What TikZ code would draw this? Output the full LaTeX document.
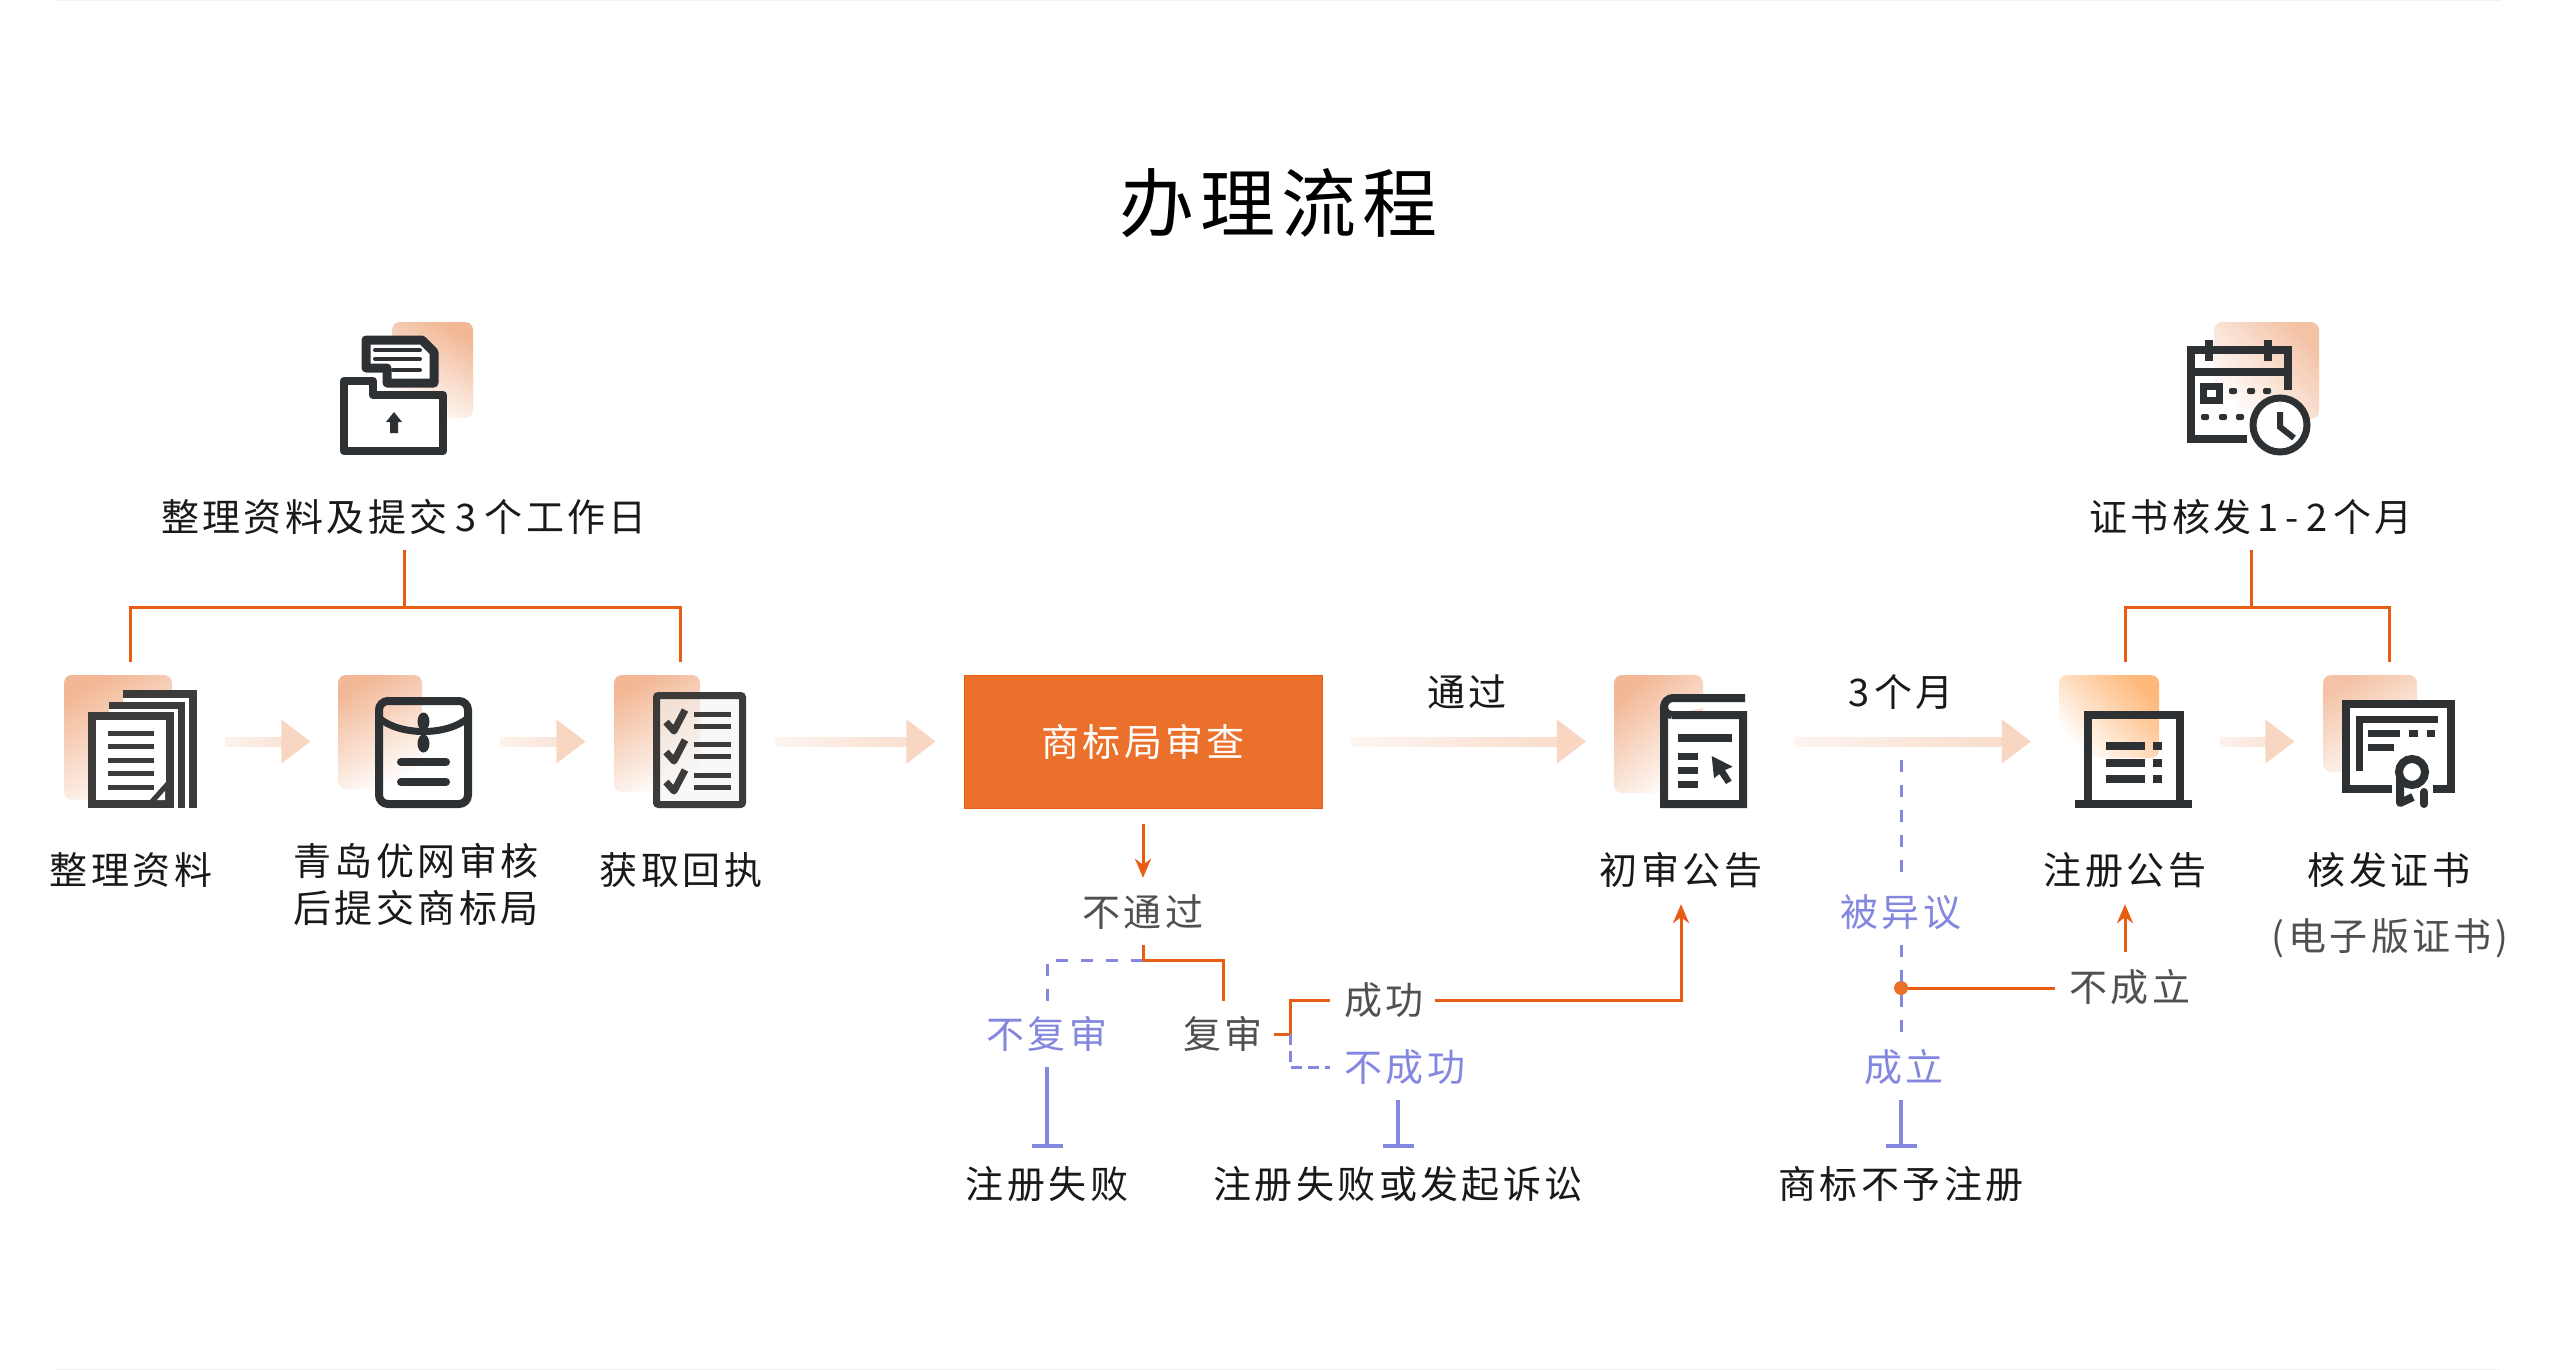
\documentclass[tikz,border=0pt]{standalone}
\usepackage{fontspec}
\setmainfont{Noto Sans CJK SC}[LetterSpace=9]
\newfontfamily\titlefont{Noto Sans CJK SC}[LetterSpace=8]
\usetikzlibrary{arrows.meta,fadings,decorations.markings}
\definecolor{flowpeach}{HTML}{F8D6C2}
\definecolor{bgpeach}{HTML}{F2B896}
\definecolor{bgamber}{HTML}{FFB87A}
\definecolor{lineorange}{HTML}{E85D12}
\definecolor{boxorange}{HTML}{EB702C}
\definecolor{tagblue}{HTML}{8487DF}
\definecolor{taggray}{HTML}{505050}
\definecolor{inkdark}{HTML}{2E3134}
\definecolor{inkbrown}{HTML}{3D3A3A}
\definecolor{edgegray}{HTML}{F2F2F2}
\tikzfading[name=flowfade, left color=transparent!90, right color=transparent!0]

\begin{document}
\begin{tikzpicture}[x=1pt, y=-1pt,
  labeltext/.style={inner sep=0pt, align=center, text=black!90,
                    font=\fontsize{38}{47}\selectfont},
  caption/.style={labeltext, text height=32pt, text depth=4pt},
  graytag/.style={caption, text=taggray},
  bluetag/.style={caption, text=tagblue},
  iconbox/.style={minimum size=133pt, inner sep=0pt},
  review/.style={fill=boxorange, draw=lineorange, line width=1pt, minimum width=358pt,
                 minimum height=133pt, text=white, inner sep=0pt,
                 font=\fontsize{38}{47}\selectfont},
  flowtip/.style={decoration={markings, mark=at position -28pt with
                  {\arrow{Triangle[length=29pt,width=44pt,flowpeach]}}}},
  flowstem/.style={draw=flowpeach, line width=10pt, path fading=flowfade,
                   shorten <=#1, shorten >=56pt},
  flowline/.style={draw=none, preaction={flowstem=#1},
                   postaction={flowtip, decorate}},
  flowline/.default=28pt,
  orangeline/.style={line width=3pt, lineorange},
  orangearrow/.style={orangeline, -{Stealth[length=19pt,width=16pt,inset=6pt]}},
  blueline/.style={line width=3.5pt, tagblue},
  bluedash/.style={line width=3pt, tagblue, dash pattern=on 12pt off 13pt},
  bluestop/.style={blueline, -{Bar[width=31pt]}},
  dotmark/.style={circle, fill=boxorange, minimum size=14pt, inner sep=0pt},
  bgfade/.style={rounded corners=8pt, top color=#1, bottom color=white},
  inkline/.style={line width=8pt, inkdark},
  inkthin/.style={line width=5pt, inkbrown},
  inkbar/.style={line width=8pt, inkdark, line cap=round}
]
\useasboundingbox (0,0) rectangle (2556,1370);
\fill[white] (0,0) rectangle (2556,1370);
\fill[edgegray] (56,0) rectangle (2500,1.5);
\fill[edgegray] (56,1368.5) rectangle (2500,1370);

\node[iconbox] (upload) at (406.5,388.5) {};
\node[iconbox] (calendar) at (2253,388.5) {};
\node[iconbox] (docs) at (130.5,741.5) {};
\node[iconbox] (envelope) at (405,741.5) {};
\node[iconbox] (checklist) at (680,741.5) {};
\node[review] (trademark) at (1143,741.5) {商标局审查};
\node[iconbox] (notice) at (1680.5,741.5) {};
\node[iconbox] (register) at (2125.5,741.5) {};
\node[iconbox] (cert) at (2389,741.5) {};

\shade[bgfade=bgpeach, shading angle=-30] (392,322) rectangle (473,418);
\shade[bgfade=bgpeach, shading angle=30] (64,675) rectangle (172,800);
\shade[bgfade=bgpeach, shading angle=30] (338,675) rectangle (422,789);
\shade[bgfade=bgpeach, shading angle=30] (614,675) rectangle (700,792);
\shade[bgfade=bgpeach, shading angle=40] (1614,675) rectangle (1703,793);
\shade[bgfade=bgamber, shading angle=-45] (2059,675) rectangle (2159,758);
\shade[bgfade=bgpeach!85, shading angle=30] (2323,675) rectangle (2417,772);
\shade[bgfade=bgpeach!85, shading angle=-45] (2214,322) rectangle (2319,419);

\draw[inkline, fill=white, line width=9pt, line join=round] (366,340) -- (422,340) -- (434,352) -- (434,383) -- (387,383) -- (387,368) -- (366,368) -- cycle;
\draw[line width=4pt, inkdark, line cap=round] (375,350) -- (420,350) (375,359) -- (420,359) (393,370) -- (420,370);
\draw[inkline, fill=white, line join=round] (344,381) -- (373,381) -- (373,395) -- (443,395) -- (443,451) -- (344,451) -- cycle;
\fill[inkdark] (394,412) -- (402,422) -- (398,422) -- (398,433) -- (390,433) -- (390,422) -- (386,422) -- cycle;

\draw[inkthin, line width=8pt, fill=white] (123,694) -- (193,694) -- (193,808);
\fill[white] (123,698) rectangle (189,808);
\draw[inkthin, line width=7pt, fill=white] (109,705) -- (181.5,705) -- (181.5,808);
\fill[white] (109,709) rectangle (178,808);
\draw[inkthin, line width=8pt, fill=white] (92,716) -- (169.5,716) -- (169.5,804) -- (92,804) -- cycle;
\fill[inkbrown] (150,800) -- (166,782) -- (166,800) -- cycle;
\fill[white] (157,800) -- (165,791) -- (165,800) -- cycle;
\foreach \rowy in {733,746,760,773,787}
  \draw[inkthin] (108,\rowy) -- (154,\rowy);

\draw[inkline, rounded corners=9pt] (379,701) rectangle (468,804);
\draw[line width=7pt, inkdark] (379,718) .. controls (400,736) and (447,736) .. (468,718);
\fill[inkdark] (423.5,721.5) ellipse (6pt and 9pt);
\fill[inkdark] (423.5,743.5) ellipse (6pt and 9pt);
\draw[line width=4pt, inkdark] (423.5,722) -- (423.5,744);
\draw[inkbar] (401,762) -- (446,762);
\draw[inkbar] (401,782) -- (446,782);

\draw[line width=7pt, inkbrown, fill=gray!10, fill opacity=.5, rounded corners=2pt] (656.5,695.5) rectangle (742.5,804.5);
\foreach \rowy in {0,30,60} {
  \draw[line width=7pt, inkbrown, line join=round] (666,722+\rowy) -- (674,731+\rowy) -- (685,710+\rowy);
}
\foreach \rowy in {714,726,744,756,775,787}
  \draw[inkthin] (694,\rowy) -- (731,\rowy);

\draw[inkline, fill=white] (1672,715) -- (1743,715) -- (1743,804) -- (1664,804) -- (1664,707) arc[start angle=180, end angle=90, radius=9pt] -- (1745,698);
\draw[inkline] (1664,707) arc[start angle=180, end angle=270, radius=8pt];
\draw[inkline] (1678,738) -- (1732,738);
\foreach \rowy in {756,770,784}
  \draw[inkline, line width=7pt] (1678,\rowy) -- (1698,\rowy);
\fill[inkdark] (1711.7,756) -- (1732.7,766.7) -- (1725,770) -- (1731.7,780.7) -- (1726,784) -- (1719.3,774) -- (1714,778.3) -- cycle;

\draw[inkline] (2087.5,804) -- (2087.5,715) -- (2180,715) -- (2180,804);
\draw[inkline] (2075,804) -- (2192,804);
\foreach \rowy in {746,763,779} {
  \draw[inkline] (2106,\rowy) -- (2145,\rowy);
  \draw[inkline] (2153,\rowy) -- (2162,\rowy);
}

\fill[white] (2346,704) rectangle (2451,789);
\draw[inkline] (2392,789) -- (2346,789) -- (2346,704) -- (2451,704) -- (2451,789) -- (2433,789);
\draw[line width=7pt, inkdark] (2438,719) -- (2359,719) -- (2359,771);
\draw[line width=7pt, inkdark] (2368,733) -- (2400,733) (2409,733) -- (2418,733) (2427,733) -- (2435,733) (2368,747) -- (2394,747);
\draw[inkline, fill=white] (2412,772) circle (13pt);
\draw[inkline, line join=round] (2400,777) -- (2400,803) -- (2413,797);
\draw[inkbar] (2424,792) -- (2424,804);

\draw[inkline] (2288,390) -- (2288,350) -- (2191,350) -- (2191,439) -- (2247,439);
\draw[inkline] (2191,372) -- (2288,372);
\draw[inkline] (2209,340) -- (2209,361) (2267.5,340) -- (2267.5,361);
\draw[line width=7pt, inkdark, fill=white] (2203.5,386.5) rectangle (2219.5,400.5);
\foreach \doty/\dotx in {391/2233,391/2251,391/2267,417/2205,417/2223,417/2240}
  \fill[inkdark, rounded corners=2pt] (\dotx-4,\doty-3) rectangle (\dotx+4,\doty+3);
\draw[line width=7pt, inkdark, fill=white] (2280,425) circle (27pt);
\draw[line width=6pt, inkdark] (2280,412) -- (2280,427) -- (2294,438);

\node[caption] (prepTime) at (404,517) {整理资料及提交\kern8pt 3\kern8pt 个工作日};
\node[caption] (certTime) at (2251,517) {证书核发\kern6pt 1\kern7pt -\kern7pt 2\kern6pt 个月};
\node[inner sep=0pt, font=\titlefont\fontsize{75}{90}\selectfont, text=black] (heading) at (1278,203) {办理流程};
\node[caption] (docsLabel) at (131,870) {整理资料};
\node[labeltext] (envelopeLabel) at (416,884) {青岛优网审核\\后提交商标局};
\node[caption] (checklistLabel) at (681,870) {获取回执};
\node[caption] (noticeLabel) at (1681,870) {初审公告};
\node[caption] (registerLabel) at (2125,870) {注册公告};
\node[caption] (certLabel) at (2389,870) {核发证书};
\node[graytag] (certNote) at (2390,936) {(电子版证书)};
\node[caption] (passLabel) at (1467,692) {通过};
\node[caption] (monthLabel) at (1901,692) {3\kern5pt 个月};
\node[graytag] (notpass) at (1143,912) {不通过};
\node[bluetag] (norecheck) at (1047,1034) {不复审};
\node[graytag] (recheck) at (1223,1034) {复审};
\node[graytag] (success) at (1384,1000) {成功};
\node[bluetag] (failure) at (1405,1067) {不成功};
\node[caption] (failed) at (1047,1184) {注册失败};
\node[caption] (sued) at (1398,1184) {注册失败或发起诉讼};
\node[bluetag] (objection) at (1901,912) {被异议};
\node[bluetag] (upheld) at (1904,1067) {成立};
\node[graytag] (invalid) at (2130,987) {不成立};
\node[caption] (refused) at (1901,1184) {商标不予注册};
\node[dotmark] (dissent) at (1901,988) {};

\coordinate (prepJoin) at (404,607);
\coordinate (certJoin) at (2251,607);
\coordinate (branch) at (1143,960);
\coordinate (recheckJoin) at (1290,1034);
\coordinate (objectTop) at (1901,760);

\draw[flowline] (docs) -- (envelope);
\draw[flowline] (envelope) -- (checklist);
\draw[flowline] (checklist) -- (trademark);
\draw[flowline] (trademark) -- (notice);
\draw[flowline=48pt] (notice) -- (register);
\draw[flowline] (register) -- (cert);

\draw[orangeline, shorten <=15pt] (prepTime.south) -- (prepJoin);
\draw[orangeline, shorten >=13pt] (prepJoin) -| (docs.north);
\draw[orangeline, shorten >=13pt] (prepJoin) -| (checklist.north);
\draw[orangeline, shorten <=15pt] (certTime.south) -- (certJoin);
\draw[orangeline, shorten >=13pt] (certJoin) -| (register.north);
\draw[orangeline, shorten >=13pt] (certJoin) -| (cert.north);

\draw[orangearrow, shorten <=15pt, shorten >=16pt] (trademark.south) -- (notpass.north);
\draw[bluedash, shorten >=15pt] (branch) -| (norecheck.north);
\draw[orangeline, shorten <=15pt] (notpass.south) -- (branch);
\draw[orangeline, shorten >=15pt] (branch) -| (recheck.north);
\draw[bluestop, shorten <=15pt, shorten >=18pt] (norecheck.south) -- (failed.north);
\draw[orangeline, shorten <=11pt] (recheck.east) -- (recheckJoin);
\draw[bluedash, dash pattern=on 11pt off 6pt, shorten >=14pt] (recheckJoin) |- (failure.west);
\draw[orangeline, shorten >=14pt] (recheckJoin) |- (success.west);
\draw[orangearrow, shorten <=11pt, shorten >=16pt] (success.east) -| (noticeLabel.south);
\draw[bluestop, shorten <=15pt, shorten >=18pt] (failure.south -| sued.north) -- (sued.north);

\draw[bluedash, shorten >=17pt] (objectTop) -- (objection.north);
\draw[bluedash, shorten <=15pt, shorten >=16pt] (objection.south) -- (upheld.north -| objection.south);
\draw[bluestop, shorten <=15pt, shorten >=18pt] (upheld.south -| refused.north) -- (refused.north);
\draw[orangeline, shorten >=14pt] (dissent) -- (invalid.west |- dissent);
\draw[orangearrow, shorten <=17pt, shorten >=16pt] (registerLabel.south |- invalid.north) -- (registerLabel.south);
\end{tikzpicture}
\end{document}
